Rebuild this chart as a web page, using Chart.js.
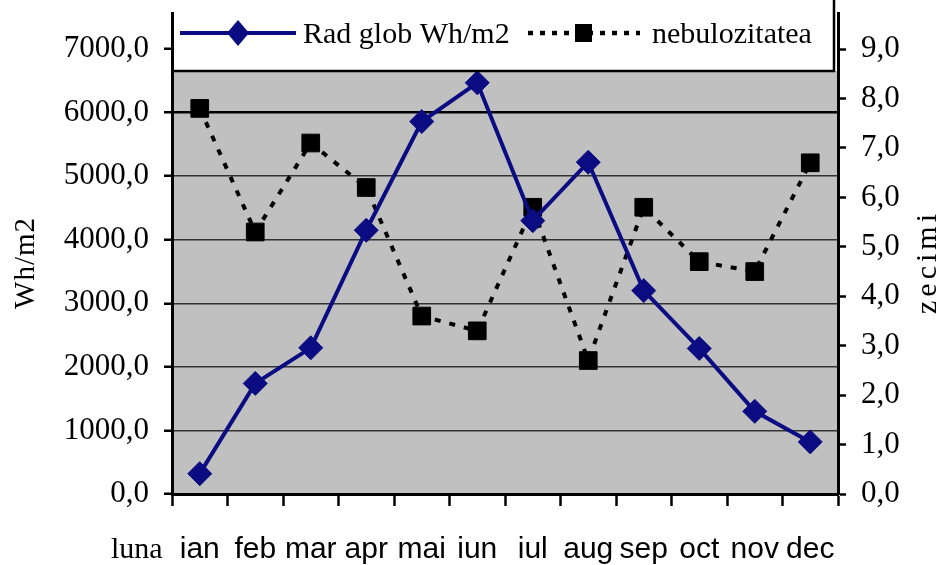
<!DOCTYPE html>
<html>
<head>
<meta charset="utf-8">
<script src="https://cdn.jsdelivr.net/npm/chart.js@4/dist/chart.umd.min.js"></script>
<style>
  html, body { margin: 0; padding: 0; background: #ffffff; }
  #wrap { width: 948px; height: 565px; }
</style>
</head>
<body>
<div id="wrap"><canvas id="c" width="948" height="565"></canvas></div>
<script>
// ---- data ----
const months = ['ian', 'feb', 'mar', 'apr', 'mai', 'iun', 'iul', 'aug', 'sep', 'oct', 'nov', 'dec'];
const radGlob = [320, 1740, 2300, 4150, 5860, 6470, 4300, 5220, 3200, 2290, 1300, 820];
const nebulozitate = [7.8, 5.3, 7.1, 6.2, 3.6, 3.3, 5.8, 2.7, 5.8, 4.7, 4.5, 6.7];
const radTicks = [0, 1000, 2000, 3000, 4000, 5000, 6000, 7000];
const nebTicks = [0, 1, 2, 3, 4, 5, 6, 7, 8, 9];
const radLabel = 'Rad glob Wh/m2';
const nebLabel = 'nebulozitatea';
const xTitle = 'luna';
const yTitle = 'Wh/m2';
const y1Title = 'zecimi';

const radMax = 7560;
const nebMax = 9.72;

const BLUE = '#0c0c82';
const SERIF = '"Liberation Serif", "Times New Roman", serif';
const SANS = '"Liberation Sans", Arial, sans-serif';
const fmt = v => Number(v).toFixed(1).replace('.', ',');

const decor = {
  id: 'decor',
  beforeDraw(chart) {
    const { ctx, chartArea: a } = chart;
    ctx.save();
    ctx.fillStyle = '#ffffff';
    ctx.fillRect(0, 0, chart.width, chart.height);
    ctx.fillStyle = '#c0c0c0';
    ctx.fillRect(a.left, 71, a.right - a.left, a.bottom - 71);
    ctx.restore();
  },
  afterDraw(chart) {
    const { ctx, chartArea: a } = chart;
    ctx.save();
    // legend box border
    ctx.strokeStyle = '#000';
    ctx.lineWidth = 2.5;
    ctx.beginPath();
    ctx.moveTo(a.left, 71);
    ctx.lineTo(834, 71);
    ctx.lineTo(834, 0);
    ctx.stroke();

    const ds0 = chart.data.datasets[0];
    const ds1 = chart.data.datasets[1];
    const ly = 33;
    // series 1 sample
    ctx.strokeStyle = ds0.borderColor;
    ctx.lineWidth = ds0.borderWidth;
    ctx.beginPath(); ctx.moveTo(180, ly); ctx.lineTo(296, ly); ctx.stroke();
    ctx.fillStyle = ds0.backgroundColor;
    ctx.beginPath();
    ctx.moveTo(238, ly - 13); ctx.lineTo(249, ly); ctx.lineTo(238, ly + 13); ctx.lineTo(227, ly);
    ctx.closePath(); ctx.fill();
    // series 2 sample
    ctx.strokeStyle = ds1.borderColor;
    ctx.lineWidth = 4.5;
    ctx.setLineDash([5, 7]);
    ctx.beginPath(); ctx.moveTo(528, ly); ctx.lineTo(640, ly); ctx.stroke();
    ctx.setLineDash([]);
    ctx.fillStyle = ds1.backgroundColor;
    ctx.fillRect(575, ly - 9, 17, 18);

    ctx.fillStyle = '#000';
    ctx.font = '30px ' + SERIF;
    ctx.textBaseline = 'alphabetic';
    ctx.textAlign = 'left';
    ctx.fillText(ds0.label, 303, 43);
    ctx.fillText(ds1.label, 652, 43);

    // "luna"
    ctx.font = '30px ' + SERIF;
    ctx.fillText(xTitle, 111, 558);

    // axis titles
    ctx.save();
    ctx.translate(26, 263);
    ctx.rotate(-Math.PI / 2);
    ctx.textAlign = 'center';
    ctx.textBaseline = 'middle';
    ctx.font = '29px ' + SERIF;
    try { ctx.letterSpacing = '1px'; } catch (e) {}
    ctx.fillText(yTitle, 0, 0);
    ctx.restore();

    ctx.save();
    ctx.translate(928, 262);
    ctx.rotate(-Math.PI / 2);
    ctx.textAlign = 'center';
    ctx.textBaseline = 'middle';
    ctx.font = '30px ' + SERIF;
    try { ctx.letterSpacing = '4px'; } catch (e) {}
    ctx.fillText(y1Title, 0, 0);
    ctx.restore();

    ctx.restore();
  }
};

new Chart(document.getElementById('c'), {
  type: 'line',
  data: {
    labels: months,
    datasets: [
      {
        label: radLabel,
        data: radGlob,
        yAxisID: 'y',
        borderColor: BLUE,
        backgroundColor: BLUE,
        borderWidth: 4,
        pointStyle: 'rectRot',
        pointRadius: 12,
        pointBorderWidth: 1,
        tension: 0
      },
      {
        label: nebLabel,
        data: nebulozitate,
        yAxisID: 'y1',
        borderColor: '#000000',
        backgroundColor: '#000000',
        borderWidth: 4,
        borderDash: [6, 9],
        pointStyle: 'rect',
        pointRadius: 12.5,
        pointBorderWidth: 1,
        tension: 0
      }
    ]
  },
  options: {
    responsive: false,
    devicePixelRatio: 1,
    animation: false,
    layout: { padding: { top: 11, left: 0, right: 0, bottom: 0 } },
    plugins: { legend: { display: false }, tooltip: { enabled: false } },
    scales: {
      x: {
        type: 'category',
        offset: true,
        grid: {
          offset: true,
          drawOnChartArea: false,
          drawTicks: true,
          tickLength: 12,
          tickColor: '#000',
          tickWidth: 2.5
        },
        border: { color: '#000', width: 3 },
        ticks: {
          color: '#000',
          font: { family: SANS, size: 30 },
          padding: 26,
          maxRotation: 0,
          autoSkip: false
        },
        afterFit(s) { s.height = 71; s.paddingLeft = 0; s.paddingRight = 0; }
      },
      y: {
        position: 'left',
        min: 0,
        max: radMax,
        afterBuildTicks(s) { s.ticks = radTicks.map(v => ({ value: v })); },
        grid: {
          color: c => (c.tick && c.tick.value > 0 && c.tick.value < 7000) ? (c.tick.value === 6000 ? '#000' : '#333') : 'rgba(0,0,0,0)',
          lineWidth: c => (c.tick && c.tick.value === 6000) ? 2.5 : 1.5,
          tickColor: '#000',
          tickLength: 8,
          tickWidth: 2.5
        },
        border: { color: '#000', width: 3 },
        ticks: {
          color: '#000',
          font: { family: SERIF, size: 31 },
          padding: 15,
          callback: v => fmt(v)
        },
        afterFit(s) { s.width = 172; s.paddingTop = 0; s.paddingBottom = 0; }
      },
      y1: {
        position: 'right',
        min: 0,
        max: nebMax,
        afterBuildTicks(s) { s.ticks = nebTicks.map(v => ({ value: v })); },
        grid: {
          drawOnChartArea: false,
          color: '#000',
          tickColor: '#000',
          tickLength: 8,
          tickWidth: 2.5
        },
        border: { color: '#000', width: 3 },
        ticks: {
          color: '#000',
          font: { family: SERIF, size: 31 },
          padding: 15,
          callback: v => fmt(v)
        },
        afterFit(s) { s.width = 110; s.paddingTop = 0; s.paddingBottom = 0; }
      }
    }
  },
  plugins: [decor]
});
</script>
</body>
</html>
